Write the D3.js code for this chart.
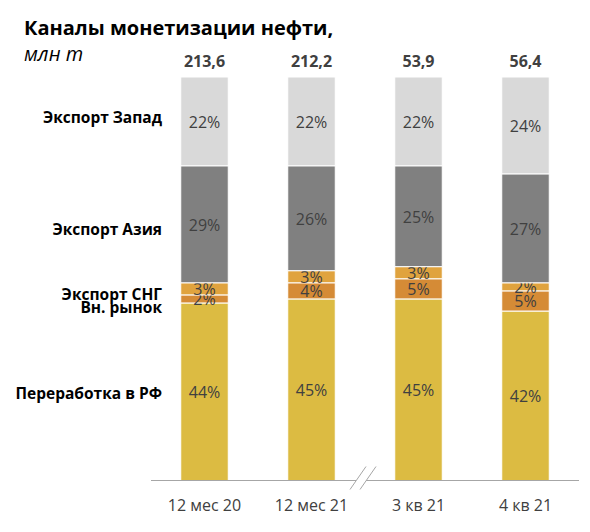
<!DOCTYPE html>
<html>
<head>
<meta charset="utf-8">
<script src="https://cdn.jsdelivr.net/npm/d3@7"></script>
<style>
  body { margin: 0; background: #fff; }
  svg { font-family: "Open Sans", "Noto Sans", sans-serif; }
</style>
</head>
<body>
<div id="chart"></div>
<script>
// Data
const periods = ["12 мес 20", "12 мес 21", "3 кв 21", "4 кв 21"];
const totals = ["213,6", "212,2", "53,9", "56,4"];
// channels from bottom to top
const channels = ["Переработка в РФ", "Вн. рынок", "Экспорт СНГ", "Экспорт Азия", "Экспорт Запад"];
const pererabotka = [44, 45, 45, 42];
const vnRynok = [2, 4, 5, 5];
const exportSng = [3, 3, 3, 2];
const exportAsia = [29, 26, 25, 27];
const exportWest = [22, 22, 22, 24];

const colors = ["#dcbb42", "#d58b36", "#e0a33e", "#808080", "#d9d9d9"];

var visualize = function () {
    var width = 590, height = 532;

    var svg = d3.select("#chart")
        .append("svg")
        .attr("width", width)
        .attr("height", height);

    var x = d3.scaleBand()
        .domain(periods)
        .range([151, 579])
        .paddingInner(0.556)
        .paddingOuter(0.278);

    var y = d3.scaleLinear()
        .domain([0, 100])
        .range([480.5, 77]);

    // table built from the arrays above
    var series = [pererabotka, vnRynok, exportSng, exportAsia, exportWest];
    var rows = periods.map(function (p, i) {
        var row = { period: p };
        channels.forEach(function (c, k) { row[c] = series[k][i]; });
        return row;
    });
    var stacked = d3.stack().keys(channels)(rows);

    var layer = svg.selectAll(".layer")
        .data(stacked)
        .enter()
        .append("g")
        .attr("class", "layer")
        .attr("fill", function (d, i) { return colors[i]; });

    layer.selectAll("rect")
        .data(function (d) { return d; })
        .enter()
        .append("rect")
        .attr("x", function (d) { return x(d.data.period); })
        .attr("width", x.bandwidth())
        .attr("y", function (d) { return y(d[1]); })
        .attr("height", function (d) { return y(d[0]) - y(d[1]); })
        .attr("stroke", "#fff")
        .attr("stroke-width", 1);

    // percent labels inside segments
    layer.selectAll("text")
        .data(function (d) { return d; })
        .enter()
        .append("text")
        .attr("x", function (d) { return x(d.data.period) + x.bandwidth() / 2; })
        .attr("y", function (d) { return (y(d[0]) + y(d[1])) / 2; })
        .attr("dy", "0.4em")
        .attr("text-anchor", "middle")
        .attr("font-size", "16px")
        .attr("fill", "#404040")
        .text(function (d) { return (d[1] - d[0]) + "%"; });

    // totals above bars
    svg.selectAll(".total")
        .data(periods)
        .enter()
        .append("text")
        .attr("class", "total")
        .attr("x", function (d) { return x(d) + x.bandwidth() / 2; })
        .attr("y", y(100) - 10)
        .attr("text-anchor", "middle")
        .attr("font-size", "16px")
        .attr("font-weight", "bold")
        .attr("fill", "#404040")
        .text(function (d, i) { return totals[i]; });

    // x axis
    var axis = svg.append("g")
        .attr("transform", "translate(0," + y(0) + ")")
        .call(d3.axisBottom(x).tickSize(0).tickPadding(19));
    axis.select(".domain").attr("stroke", "#a6a6a6").attr("d", "M151,0H579");
    axis.selectAll("text")
        .attr("font-family", "\"Open Sans\", \"Noto Sans\", sans-serif")
        .attr("font-size", "16px")
        .attr("fill", "#404040");

    // axis break between the yearly and quarterly bars
    var breakX = (x(periods[1]) + x.bandwidth() + x(periods[2])) / 2;
    var brk = svg.append("g").attr("transform", "translate(" + breakX + "," + y(0) + ")");
    brk.append("rect").attr("x", -9).attr("y", -2).attr("width", 10).attr("height", 4).attr("fill", "#fff");
    [-10, 0].forEach(function (o) {
        brk.append("line")
            .attr("x1", o - 5).attr("y1", 9)
            .attr("x2", o + 11).attr("y2", -14)
            .attr("stroke", "#a6a6a6")
            .attr("stroke-width", 1);
    });

    // channel names on the left
    var labelY = {
        "Экспорт Запад": 123,
        "Экспорт Азия": 235,
        "Экспорт СНГ": 300,
        "Вн. рынок": 313,
        "Переработка в РФ": 399
    };
    svg.selectAll(".channel")
        .data(channels)
        .enter()
        .append("text")
        .attr("class", "channel")
        .attr("x", 162)
        .attr("y", function (d) { return labelY[d]; })
        .attr("text-anchor", "end")
        .attr("font-size", "15.5px")
        .attr("font-weight", "bold")
        .attr("fill", "#000")
        .text(function (d) { return d; });

    // title
    svg.append("text")
        .attr("x", 24)
        .attr("y", 35)
        .attr("font-size", "20px")
        .attr("font-weight", "bold")
        .attr("fill", "#000")
        .text("Каналы монетизации нефти,");
    svg.append("text")
        .attr("x", 24)
        .attr("y", 61)
        .attr("font-size", "20px")
        .attr("font-style", "italic")
        .attr("fill", "#000")
        .text("млн т");
};

visualize();
</script>
</body>
</html>
